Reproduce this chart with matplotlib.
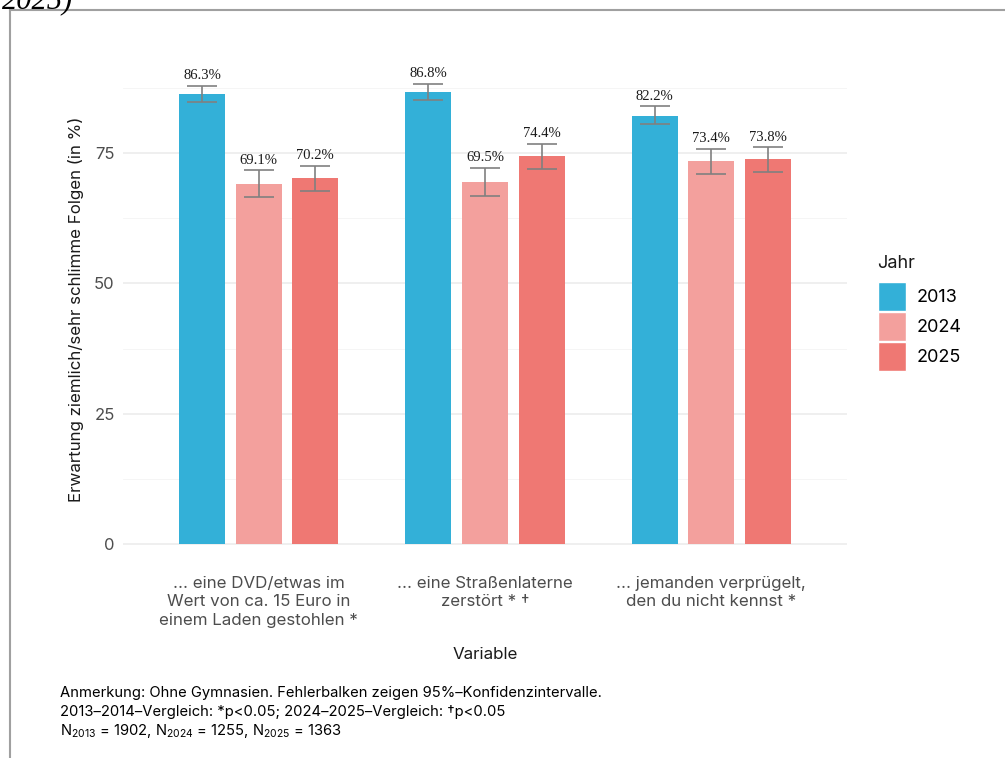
import matplotlib
matplotlib.use("Agg")
import matplotlib.pyplot as plt
import numpy as np
from matplotlib.lines import Line2D
from matplotlib.patches import Patch

categories = ["... eine DVD/etwas im\nWert von ca. 15 Euro in\neinem Laden gestohlen *",
              "... eine Straßenlaterne\nzerstört * †",
              "... jemanden verprügelt,\nden du nicht kennst *"]
years = ["2013", "2024", "2025"]
values = {
    "2013": [86.3, 86.8, 82.2],
    "2024": [69.1, 69.5, 73.4],
    "2025": [70.2, 74.4, 73.8],
}
ci_low = {
    "2013": [84.7, 85.2, 80.5],
    "2024": [66.6, 66.8, 70.9],
    "2025": [67.7, 72.0, 71.4],
}
ci_high = {
    "2013": [87.9, 88.3, 84.0],
    "2024": [71.7, 72.2, 75.8],
    "2025": [72.6, 76.8, 76.1],
}
colors = {"2013": "#33B0D8", "2024": "#F3A09D", "2025": "#EF7873"}
yticks = [0, 25, 50, 75]

SANS = ["Inter", "DejaVu Sans"]
plt.rcParams["font.family"] = SANS
plt.rcParams["mathtext.fontset"] = "custom"
plt.rcParams["mathtext.rm"] = "Inter"

fig = plt.figure(figsize=(10.05, 7.58), dpi=100)
ax = fig.add_axes([0.1224, 0.2513, 0.8428 - 0.1224, 0.9322 - 0.2513])

x = np.arange(1, len(categories) + 1)
offsets = [-0.25, 0.0, 0.25]
bw = 0.203
for yr, off in zip(years, offsets):
    v = np.array(values[yr])
    lo = np.array(ci_low[yr])
    hi = np.array(ci_high[yr])
    ax.bar(x + off, v, width=bw, color=colors[yr], zorder=2)
    ax.errorbar(x + off, v, yerr=[v - lo, hi - v], fmt="none", ecolor="#808080",
                elinewidth=1.2, capsize=10.8, capthick=1.2, zorder=3)
    for xi, vi, h in zip(x + off, v, hi):
        ax.annotate(f"{vi:.1f}%", (xi, h), xytext=(0, 2.5), textcoords="offset points",
                    ha="center", va="bottom", fontsize=10.5,
                    family=["Liberation Serif", "DejaVu Serif"], color="#1a1a1a")

ax.set_xlim(0.4, 3.6)
ax.set_ylim(-4.5, 94.5)
ax.set_yticks(yticks)
ax.set_yticks([12.5, 37.5, 62.5, 87.5], minor=True)
ax.set_xticks(x)
ax.set_xticklabels(categories, fontsize=12.2, color="#4d4d4d", linespacing=1.3)
ax.tick_params(axis="y", labelsize=12, labelcolor="#4d4d4d", length=0, pad=6)
ax.tick_params(axis="x", length=0, pad=6)
ax.tick_params(which="minor", length=0)
ax.grid(axis="y", which="major", color="#EBEBEB", linewidth=1.1, zorder=0)
ax.grid(axis="y", which="minor", color="#F4F4F4", linewidth=0.6, zorder=0)
ax.grid(axis="x", visible=False)
for s in ax.spines.values():
    s.set_visible(False)
ax.set_axisbelow(True)
ax.set_xlabel("Variable", fontsize=12.2, color="#1a1a1a", labelpad=14)
ax.set_ylabel("Erwartung ziemlich/sehr schlimme Folgen (in %)", fontsize=12.2,
              color="#1a1a1a", labelpad=7)

handles = [Patch(facecolor=colors[yr], edgecolor="white", linewidth=1) for yr in years]
leg = fig.legend(handles, years, loc="upper left",
                 bbox_to_anchor=(862 / 1005, 1 - 266 / 758), frameon=False,
                 fontsize=13, handlelength=1.55, handleheight=2.05,
                 handletextpad=0.6, labelspacing=0.08)
fig.text(877 / 1005, 1 - 263 / 758, "Jahr", fontsize=13, color="#1a1a1a",
         ha="left", va="center")

note_lines = ["Anmerkung: Ohne Gymnasien. Fehlerbalken zeigen 95%–Konfidenzintervalle.",
              "2013–2014–Vergleich: *p<0.05; 2024–2025–Vergleich: †p<0.05",
              r"N$_{2013}$ = 1902, N$_{2024}$ = 1255, N$_{2025}$ = 1363"]
for line, ypx in zip(note_lines, [693, 712, 731]):
    fig.text(60 / 1005, 1 - ypx / 758, line, fontsize=10.65, color="#000000",
             va="center", ha="left")

fig.text(2 / 1005, 1 - 8 / 758, "2025)", fontsize=22, style="italic",
         family=["Liberation Serif", "DejaVu Serif"], va="baseline", ha="left")

fig.add_artist(Line2D([10 / 1005, 1.0], [1 - 10 / 758, 1 - 10 / 758],
                      transform=fig.transFigure, color="#A0A0A0", linewidth=1.5))
fig.add_artist(Line2D([10 / 1005, 10 / 1005], [1 - 10 / 758, 0.0],
                      transform=fig.transFigure, color="#A0A0A0", linewidth=1.5))

fig.savefig("out.png", dpi=100, facecolor="white")
